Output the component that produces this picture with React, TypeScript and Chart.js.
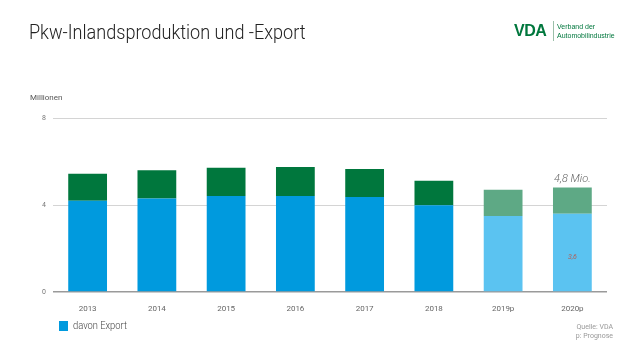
import React, { useEffect, useRef } from "react";
import { Chart, registerables } from "chart.js";

Chart.register(...registerables);

const categories = ["2013", "2014", "2015", "2016", "2017", "2018", "2019p", "2020p"];
const exportValues = [4.2, 4.3, 4.41, 4.41, 4.37, 3.99, 3.5, 3.6];
const totalProduction = [5.44, 5.6, 5.71, 5.75, 5.65, 5.12, 4.7, 4.8];
const yTicks = [0, 4, 8];
const exportColors = ["#009ADE", "#009ADE", "#009ADE", "#009ADE", "#009ADE", "#009ADE", "#5BC3F1", "#5BC3F1"];
const domesticColors = ["#00773D", "#00773D", "#00773D", "#00773D", "#00773D", "#00773D", "#5EA985", "#5EA985"];
const totalLabel = "4,8 Mio.";
const exportLabel = "3,6";

const annotate = {
  id: "annotate",
  afterDatasetsDraw(chart: any) {
    const { ctx, scales } = chart;
    const i = categories.length - 1;
    const x = scales.x.getPixelForValue(i);
    ctx.save();
    ctx.fillStyle = "#666";
    ctx.font = "italic 300 11px Roboto, sans-serif";
    ctx.textAlign = "center";
    ctx.textBaseline = "bottom";
    ctx.fillText(totalLabel, x, scales.y.getPixelForValue(totalProduction[i]) - 3);
    ctx.fillStyle = "#B0605A";
    ctx.font = "italic 7px Roboto, sans-serif";
    ctx.textBaseline = "middle";
    ctx.fillText(exportLabel, x, scales.y.getPixelForValue(exportValues[i] * 0.45));
    ctx.restore();
  },
};

export default function App() {
  const ref = useRef<HTMLCanvasElement>(null);
  useEffect(() => {
    if (!ref.current) return;
    const domestic = totalProduction.map((t, i) => +(t - exportValues[i]).toFixed(2));
    const chart = new Chart(ref.current, {
      type: "bar",
      data: {
        labels: categories,
        datasets: [
          { label: "davon Export", data: exportValues, backgroundColor: exportColors, barPercentage: 0.56, categoryPercentage: 1 },
          { label: "Inland", data: domestic, backgroundColor: domesticColors, barPercentage: 0.56, categoryPercentage: 1 },
        ],
      },
      options: {
        responsive: false,
        animation: false,
        layout: { padding: { left: 30, right: 33, top: 118, bottom: 48 } },
        plugins: { legend: { display: false }, tooltip: { enabled: false } },
        scales: {
          x: {
            stacked: true,
            grid: { display: false },
            border: { display: false },
            ticks: { color: "#666", font: { size: 8, family: "Roboto, sans-serif" }, padding: 4 },
            afterFit: (s: any) => { s.height = 20; },
          },
          y: {
            stacked: true,
            min: 0,
            max: 8,
            afterBuildTicks: (s: any) => { s.ticks = yTicks.map((v) => ({ value: v })); },
            grid: {
              color: (c: any) => (c.tick && c.tick.value === 0 ? "#9a9a9a" : "#d4d4d4"),
              lineWidth: (c: any) => (c.tick && c.tick.value === 0 ? 1.5 : 1),
              drawTicks: false,
            },
            border: { display: false },
            ticks: { color: "#777", font: { size: 7, family: "Roboto, sans-serif" }, padding: 7 },
            afterFit: (s: any) => { s.width = 23; },
          },
        },
      },
      plugins: [annotate],
    });
    return () => chart.destroy();
  }, []);

  return (
    <div style={{ position: "fixed", left: 0, top: 0, width: 640, height: 360, background: "#fff", fontFamily: "Roboto, sans-serif" }}>
      <canvas ref={ref} width={640} height={360} style={{ position: "absolute", left: 0, top: 0 }} />
      <div style={{ position: "absolute", left: 29, top: 20, fontSize: 21, fontWeight: 300, color: "#222", whiteSpace: "nowrap", transform: "scaleX(0.86)", transformOrigin: "left top" }}>
        Pkw-Inlandsproduktion und -Export
      </div>
      <div style={{ position: "absolute", left: 514, top: 22, fontFamily: "'Liberation Sans', sans-serif", fontWeight: 700, fontSize: 16, color: "#00773D", letterSpacing: -0.5 }}>
        VDA
      </div>
      <div style={{ position: "absolute", left: 553, top: 21, width: 1, height: 20, background: "#9bbfa9" }} />
      <div style={{ position: "absolute", left: 557, top: 22, fontSize: 7, lineHeight: "9px", color: "#00773D", fontFamily: "'Liberation Sans', sans-serif" }}>
        <div>Verband der</div>
        <div>Automobilindustrie</div>
      </div>
      <div style={{ position: "absolute", left: 30, top: 93, fontSize: 8, color: "#555" }}>Millionen</div>
      <div style={{ position: "absolute", left: 59, top: 321, width: 9, height: 10, background: "#009ADE" }} />
      <div style={{ position: "absolute", left: 73, top: 319, fontSize: 11, fontWeight: 300, color: "#444", whiteSpace: "nowrap", transform: "scaleX(0.85)", transformOrigin: "left top" }}>davon Export</div>
      <div style={{ position: "absolute", right: 27, top: 323, fontSize: 7, lineHeight: "9px", color: "#999", textAlign: "right" }}>
        <div>Quelle: VDA</div>
        <div>p: Prognose</div>
      </div>
    </div>
  );
}
